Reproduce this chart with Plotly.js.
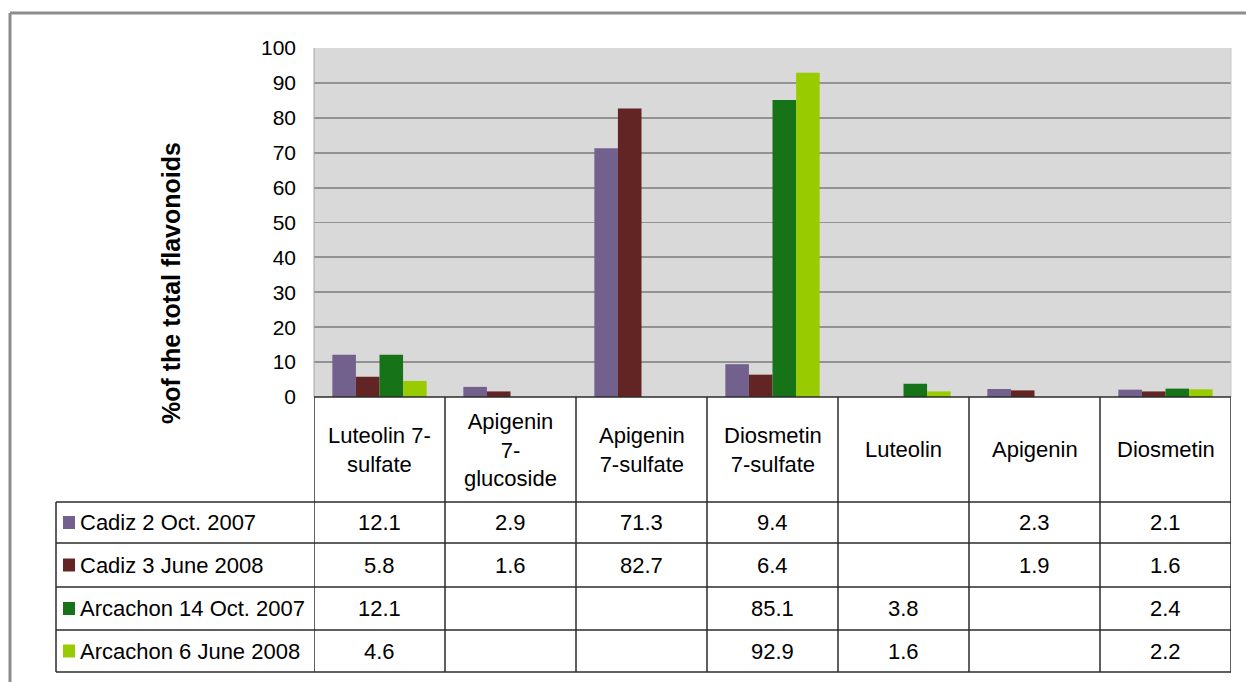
<!DOCTYPE html>
<html>
<head>
<meta charset="utf-8">
<script src="https://cdn.plot.ly/plotly-3.0.1.min.js"></script>
<style>
html,body{margin:0;padding:0;background:#fff;}
#chart{width:1246px;height:682px;}
</style>
</head>
<body>
<div id="chart"></div>
<script>
// ---- data ----
const categories = ['Luteolin 7-sulfate', 'Apigenin 7-glucoside', 'Apigenin 7-sulfate', 'Diosmetin 7-sulfate', 'Luteolin', 'Apigenin', 'Diosmetin'];
const headerLabels = ['Luteolin 7-<br>sulfate', 'Apigenin<br>7-<br>glucoside', 'Apigenin<br>7-sulfate', 'Diosmetin<br>7-sulfate', 'Luteolin', 'Apigenin', 'Diosmetin'];
const seriesNames = ['Cadiz 2 Oct. 2007', 'Cadiz 3 June 2008', 'Arcachon 14 Oct. 2007', 'Arcachon 6 June 2008'];
const cadizOct2007 = [12.1, 2.9, 71.3, 9.4, null, 2.3, 2.1];
const cadizJune2008 = [5.8, 1.6, 82.7, 6.4, null, 1.9, 1.6];
const arcachonOct2007 = [12.1, null, null, 85.1, 3.8, null, 2.4];
const arcachonJune2008 = [4.6, null, null, 92.9, 1.6, null, 2.2];
const yTicks = [0, 10, 20, 30, 40, 50, 60, 70, 80, 90, 100];
const yTitle = '%of the total flavonoids';

// ---- styling ----
const seriesValues = [cadizOct2007, cadizJune2008, arcachonOct2007, arcachonJune2008];
const colors = ['#72618d', '#632523', '#177317', '#99cc00'];
const FONT = 'Liberation Sans, Arial, sans-serif';
const FS = 22;

// pixel geometry of the plot area
const L = 314, R = 1231, T = 48, B = 397;
const W = R - L, H = B - T;
const px = x => (x - L) / W;
const py = y => (B - y) / H;

const headerBottom = 502;
const rowLines = [502, 543, 587, 630, 672];
const tableLeft = 56;

const traces = seriesNames.map((name, i) => ({
  type: 'bar',
  name: name,
  x: categories,
  y: seriesValues[i],
  marker: {color: colors[i], line: {width: 0}},
  hoverinfo: 'x+y+name'
}));

const shapes = [];
const annotations = [];
const lineStyle = {color: '#2b2b2b', width: 1.5};

// outer frame
shapes.push({type: 'line', xref: 'paper', yref: 'paper', x0: px(10), x1: px(1250), y0: py(13), y1: py(13), line: {color: '#8c8c8c', width: 3}});
shapes.push({type: 'line', xref: 'paper', yref: 'paper', x0: px(10), x1: px(10), y0: py(13), y1: py(690), line: {color: '#8c8c8c', width: 3}});

// plot area side borders
shapes.push({type: 'line', xref: 'paper', yref: 'paper', x0: 0, x1: 0, y0: 0, y1: 1, line: {color: '#a6a6a6', width: 1}});
shapes.push({type: 'line', xref: 'paper', yref: 'paper', x0: 1, x1: 1, y0: 0, y1: 1, line: {color: '#c8c8c8', width: 1}});

// table: top line of header (axis line)
shapes.push({type: 'line', xref: 'paper', yref: 'paper', x0: 0, x1: 1, y0: 0, y1: 0, line: lineStyle});
// horizontal row lines
rowLines.forEach(y => {
  shapes.push({type: 'line', xref: 'paper', yref: 'paper', x0: px(tableLeft), x1: 1, y0: py(y), y1: py(y), line: lineStyle});
});
// vertical column lines
for (let k = 0; k <= categories.length; k++) {
  shapes.push({type: 'line', xref: 'x', yref: 'paper', x0: k - 0.5, x1: k - 0.5, y0: 0, y1: py(rowLines[rowLines.length - 1]), line: lineStyle});
}
// left border of label column
shapes.push({type: 'line', xref: 'paper', yref: 'paper', x0: px(tableLeft), x1: px(tableLeft), y0: py(headerBottom), y1: py(rowLines[rowLines.length - 1]), line: lineStyle});

// header labels
headerLabels.forEach((lab, k) => {
  annotations.push({xref: 'x', yref: 'paper', x: k, y: py((B + headerBottom) / 2), text: lab, showarrow: false,
    xanchor: 'center', yanchor: 'middle', align: 'center', font: {family: FONT, size: FS, color: '#000'}});
});

// rows
seriesNames.forEach((name, i) => {
  const yc = (rowLines[i] + rowLines[i + 1]) / 2;
  // legend key
  shapes.push({type: 'rect', xref: 'paper', yref: 'paper', x0: px(63), x1: px(75), y0: py(yc - 6.5), y1: py(yc + 6.5), fillcolor: colors[i], line: {width: 0}});
  annotations.push({xref: 'paper', yref: 'paper', x: px(78), y: py(yc), text: name, showarrow: false,
    xanchor: 'left', yanchor: 'middle', font: {family: FONT, size: FS, color: '#000'}});
  seriesValues[i].forEach((v, k) => {
    if (v === null) return;
    annotations.push({xref: 'x', yref: 'paper', x: k, y: py(yc), text: v.toFixed(1), showarrow: false,
      xanchor: 'center', yanchor: 'middle', font: {family: FONT, size: FS, color: '#000'}});
  });
});

// y-axis title
annotations.push({xref: 'paper', yref: 'paper', x: px(171), y: py(283), text: '<b>' + yTitle + '</b>', textangle: -90,
  showarrow: false, xanchor: 'center', yanchor: 'middle', font: {family: FONT, size: 25, color: '#000'}});

const layout = {
  width: 1246,
  height: 682,
  margin: {l: L, r: 1246 - R, t: T, b: 682 - B, pad: 0},
  paper_bgcolor: '#ffffff',
  plot_bgcolor: '#d9d9d9',
  barmode: 'group',
  bargap: 0.28,
  bargroupgap: 0,
  showlegend: false,
  xaxis: {
    type: 'category',
    range: [-0.5, categories.length - 0.5],
    showticklabels: false,
    showgrid: false,
    zeroline: false,
    showline: false,
    ticks: '',
    fixedrange: true
  },
  yaxis: {
    range: [0, 100],
    tickvals: yTicks,
    ticktext: yTicks.map(String),
    showgrid: true,
    gridcolor: '#929292',
    gridwidth: 1.8,
    zeroline: false,
    showline: false,
    ticks: '',
    ticklabelstandoff: 17,
    tickfont: {family: FONT, size: 21, color: '#000'},
    fixedrange: true
  },
  shapes: shapes,
  annotations: annotations
};

Plotly.newPlot('chart', traces, layout, {displayModeBar: false, staticPlot: true});
</script>
</body>
</html>
